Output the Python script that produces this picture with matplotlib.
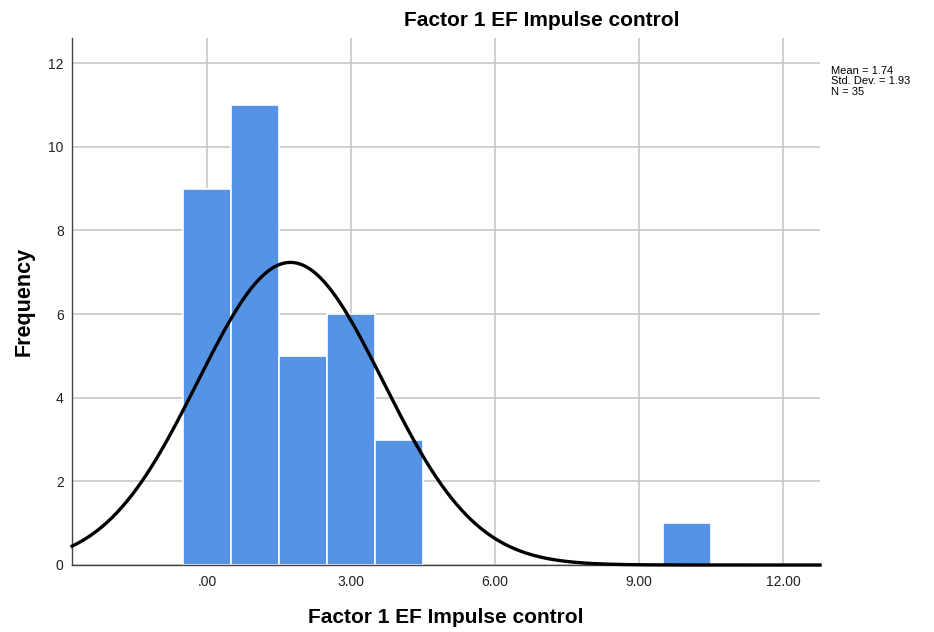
import numpy as np
import matplotlib
matplotlib.use("Agg")
import matplotlib.pyplot as plt

plt.rcParams['font.family'] = ['Liberation Sans', 'DejaVu Sans']

bin_centers = [0, 1, 2, 3, 4, 10]
counts = [9, 11, 5, 6, 3, 1]
mean_val = 1.74
std_val = 1.93
n_val = 35
x_ticks = [0, 3, 6, 9, 12]
x_tick_labels = ['.00', '3.00', '6.00', '9.00', '12.00']
y_ticks = [0, 2, 4, 6, 8, 10, 12]

fig = plt.figure(figsize=(9.34, 6.32), dpi=100)
ax = fig.add_axes([72/934, 67/632, (820-72)/934, (565-38)/632])

ax.set_xlim(-2.81, 12.77)
ax.set_ylim(0, 12.6)
ax.set_axisbelow(True)
ax.grid(True, color='#c8c8c8', linewidth=1.2)
ax.set_xticks(x_ticks)
ax.set_xticklabels(x_tick_labels)
ax.set_yticks(y_ticks)
ax.tick_params(length=0, labelsize=10, colors='#222222')
ax.tick_params(axis='x', pad=7)
ax.tick_params(axis='y', pad=6)

ax.bar(bin_centers, counts, width=1.0, color='#5594e4', edgecolor='white', linewidth=1.2, zorder=2)

xs = np.linspace(-2.81, 12.77, 600)
ys = n_val * 1.0 / (std_val * np.sqrt(2 * np.pi)) * np.exp(-0.5 * ((xs - mean_val) / std_val) ** 2)
ax.plot(xs, ys, color='black', linewidth=2.4, zorder=3, clip_on=False)

for s in ['top', 'right']:
    ax.spines[s].set_visible(False)
for s in ['left', 'bottom']:
    ax.spines[s].set_color('#444444')
    ax.spines[s].set_linewidth(1.0)

ax.set_xlabel('Factor 1 EF Impulse control', fontsize=15, fontweight='bold', labelpad=14)
ax.set_ylabel('Frequency', fontsize=15.5, fontweight='bold', labelpad=10)

fig.text(542/934, 1 - 20/632, 'Factor 1 EF Impulse control', ha='center', va='center',
         fontsize=15, fontweight='bold')
fig.text(831/934, 1 - 66/632, f'Mean = {mean_val:.2f}\nStd. Dev. = {std_val:.2f}\nN = {n_val}',
         ha='left', va='top', fontsize=8, linespacing=1.05,
         family=['Liberation Sans Narrow', 'Liberation Sans', 'DejaVu Sans'])

fig.savefig('out.png', dpi=100)
